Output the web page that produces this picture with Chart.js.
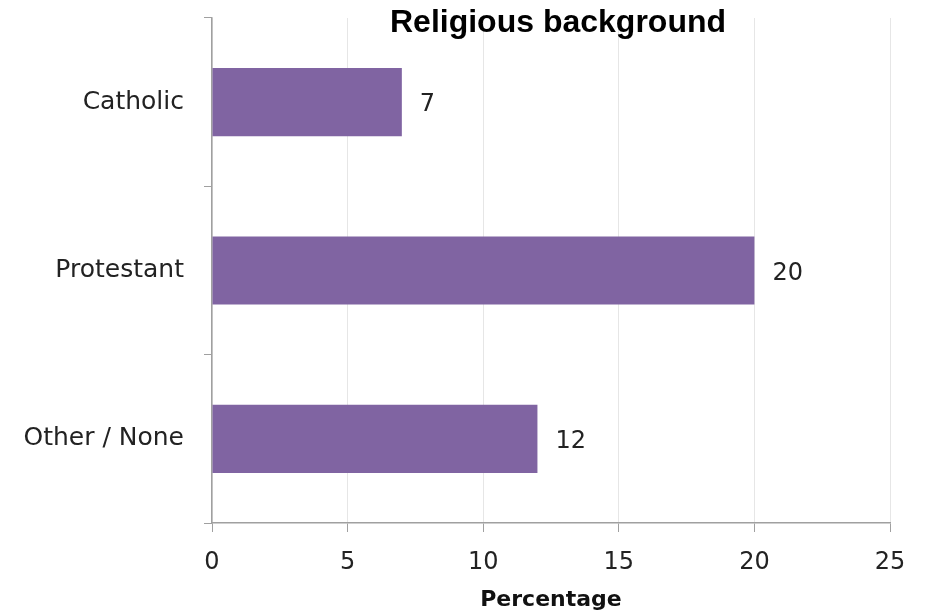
<!DOCTYPE html>
<html>
<head>
<meta charset="utf-8">
<script src="https://cdn.jsdelivr.net/npm/chart.js@4"></script>
<style>
  html, body { margin: 0; padding: 0; background: #fff; }
  canvas { display: block; }
</style>
</head>
<body>
<canvas id="chart" width="926" height="614"></canvas>
<script>
// 数据
const categories = ["Catholic", "Protestant", "Other / None"];
const values = [7, 20, 12];
const xTicks = [0, 5, 10, 15, 20, 25];
const chartTitle = "Religious background";
const xTitle = "Percentage";

const labelFont = "'DejaVu Sans', 'Noto Sans', sans-serif";

// 标题插件
const titlePlugin = {
  id: "topTitle",
  afterDraw(chart) {
    const ctx = chart.ctx;
    ctx.save();
    ctx.font = "bold 32px 'Liberation Sans', Arial, sans-serif";
    ctx.fillStyle = "#000";
    ctx.textAlign = "center";
    ctx.textBaseline = "middle";
    ctx.fillText(chartTitle, 558, 23);
    ctx.restore();
  },
};

// 数值标签插件
const valueLabels = {
  id: "valueLabels",
  afterDatasetsDraw(chart) {
    const ctx = chart.ctx;
    const meta = chart.getDatasetMeta(0);
    ctx.save();
    ctx.font = `24px ${labelFont}`;
    ctx.fillStyle = "#222";
    ctx.textAlign = "left";
    ctx.textBaseline = "middle";
    meta.data.forEach((bar, i) => {
      ctx.fillText(String(values[i]), bar.x + 18, bar.y + 3);
    });
    ctx.restore();
  },
};

new Chart(document.getElementById("chart"), {
  type: "bar",
  data: {
    labels: categories,
    datasets: [
      {
        data: values,
        backgroundColor: "#8064A2",
        borderWidth: 0,
        barPercentage: 0.405,
        categoryPercentage: 1,
      },
    ],
  },
  options: {
    indexAxis: "y",
    responsive: false,
    animation: false,
    layout: { padding: { top: 18, right: 36, left: 0, bottom: 0 } },
    plugins: {
      legend: { display: false },
      tooltip: { enabled: false },
    },
    scales: {
      x: {
        min: 0,
        max: 25,
        afterBuildTicks(scale) {
          scale.ticks = xTicks.map((v) => ({ value: v }));
        },
        afterFit(scale) {
          scale.height = 91;
        },
        grid: {
          color: "#e6e6e6",
          tickColor: "#a0a0a0",
          tickLength: 9,
        },
        border: { color: "#a0a0a0", width: 1.5 },
        ticks: {
          font: { family: labelFont, size: 24 },
          color: "#222",
          padding: 16,
        },
        title: {
          display: true,
          text: xTitle,
          font: { family: labelFont, size: 22, weight: "bold" },
          color: "#111",
          padding: { top: 0, bottom: 1 },
        },
      },
      y: {
        offset: true,
        afterFit(scale) {
          scale.width = 212;
          scale.paddingTop = 0;
          scale.paddingBottom = 0;
        },
        grid: {
          offset: true,
          drawOnChartArea: false,
          tickColor: "#a0a0a0",
          tickLength: 8,
        },
        border: { color: "#a0a0a0", width: 1.5 },
        ticks: {
          font: { family: labelFont, size: 25 },
          color: "#222",
          padding: 20,
        },
      },
    },
  },
  plugins: [titlePlugin, valueLabels],
});
</script>
</body>
</html>
